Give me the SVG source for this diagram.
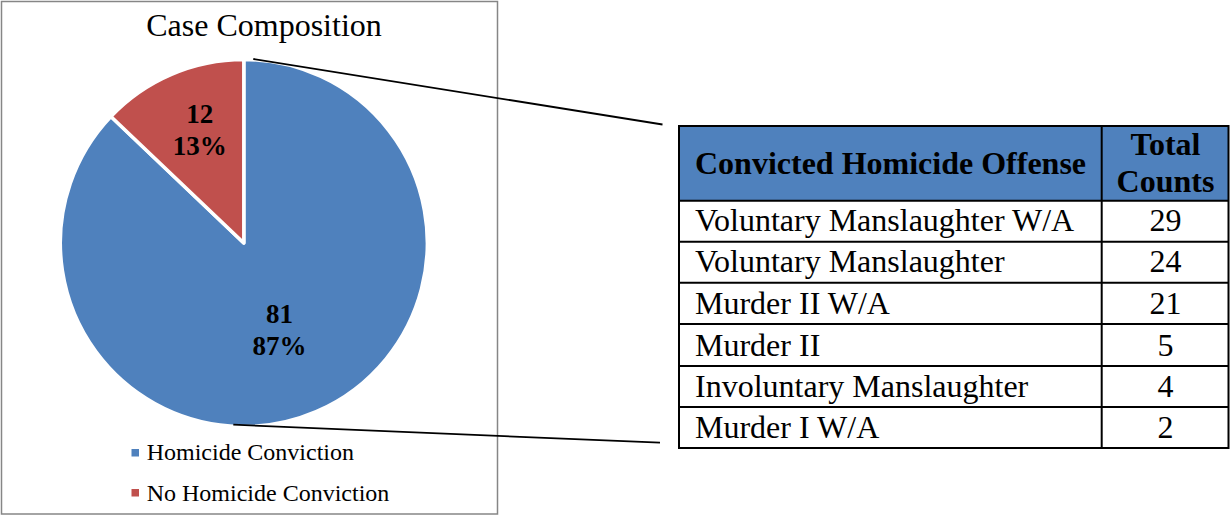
<svg xmlns="http://www.w3.org/2000/svg" width="1230" height="516" viewBox="0 0 1230 516">
  <style>
    text { font-family: "Liberation Serif", "Times New Roman", serif; fill: #000; }
    .title { font-size: 32px; }
    .slice-label { font-size: 27px; font-weight: bold; }
    .legend { font-size: 24px; }
    .hdr { font-size: 32px; font-weight: bold; }
    .cell { font-size: 32px; }
    .grid { stroke: #000; stroke-width: 2; fill: none; }
    .leader { stroke: #000; stroke-width: 1.8; fill: none; }
  </style>

  <!-- chart frame -->
  <g id="chart">
    <rect x="1.5" y="1.5" width="496" height="512.5" fill="#fff" stroke="#868686" stroke-width="1.5"/>
    <text class="title" x="264" y="36" text-anchor="middle">Case Composition</text>
  </g>

  <!-- pie slices -->
  <g id="slice-homicide">
    <path d="M243.8,243 L243.8,59.5 A183.5,183.5 0 1 1 110.9,116.5 Z" fill="#4F81BD" stroke="#fff" stroke-width="3.5" stroke-linejoin="round"/>
    <text class="slice-label" x="279.5" y="323.3" text-anchor="middle">81</text>
    <text class="slice-label" x="279.5" y="355" text-anchor="middle">87%</text>
  </g>
  <g id="slice-no-homicide">
    <path d="M243.8,243 L110.9,116.5 A183.5,183.5 0 0 1 243.8,59.5 Z" fill="#C0504D" stroke="#fff" stroke-width="3.5" stroke-linejoin="round"/>
    <text class="slice-label" x="199.7" y="123.3" text-anchor="middle">12</text>
    <text class="slice-label" x="199.7" y="155" text-anchor="middle">13%</text>
  </g>

  <!-- legend -->
  <g id="legend">
    <rect x="131.5" y="449" width="7.5" height="7.5" fill="#4F81BD"/>
    <text class="legend" x="146.7" y="460">Homicide Conviction</text>
    <rect x="131.5" y="489" width="7.5" height="7.5" fill="#C0504D"/>
    <text class="legend" x="146.7" y="500.7">No Homicide Conviction</text>
  </g>

  <!-- leader lines from the homicide slice to the breakdown table -->
  <g id="connectors">
    <line class="leader" x1="253.3" y1="59" x2="662.5" y2="124.5"/>
    <line class="leader" x1="233.3" y1="424.7" x2="660" y2="442.7"/>
  </g>

  <!-- breakdown table -->
  <g id="offense-table">
    <rect x="679" y="126" width="549.5" height="74.7" fill="#4F81BD"/>
    <text class="hdr" x="695" y="174">Convicted Homicide Offense</text>
    <text class="hdr" x="1165.5" y="155" text-anchor="middle">Total</text>
    <text class="hdr" x="1165.5" y="191.7" text-anchor="middle">Counts</text>

    <rect class="grid" x="679" y="126" width="549.5" height="322"/>
    <line class="grid" x1="1101.7" y1="126" x2="1101.7" y2="448"/>
    <line class="grid" x1="679" y1="200.7" x2="1228.5" y2="200.7"/>
    <line class="grid" x1="679" y1="241.7" x2="1228.5" y2="241.7"/>
    <line class="grid" x1="679" y1="282.7" x2="1228.5" y2="282.7"/>
    <line class="grid" x1="679" y1="324" x2="1228.5" y2="324"/>
    <line class="grid" x1="679" y1="366" x2="1228.5" y2="366"/>
    <line class="grid" x1="679" y1="407" x2="1228.5" y2="407"/>

    <text class="cell" x="695" y="230.7">Voluntary Manslaughter W/A</text>
    <text class="cell" x="1165.5" y="230.7" text-anchor="middle">29</text>
    <text class="cell" x="695" y="271.7">Voluntary Manslaughter</text>
    <text class="cell" x="1165.5" y="271.7" text-anchor="middle">24</text>
    <text class="cell" x="695" y="314">Murder II W/A</text>
    <text class="cell" x="1165.5" y="314" text-anchor="middle">21</text>
    <text class="cell" x="695" y="355.7">Murder II</text>
    <text class="cell" x="1165.5" y="355.7" text-anchor="middle">5</text>
    <text class="cell" x="695" y="397">Involuntary Manslaughter</text>
    <text class="cell" x="1165.5" y="397" text-anchor="middle">4</text>
    <text class="cell" x="695" y="438">Murder I W/A</text>
    <text class="cell" x="1165.5" y="438" text-anchor="middle">2</text>
  </g>
</svg>
